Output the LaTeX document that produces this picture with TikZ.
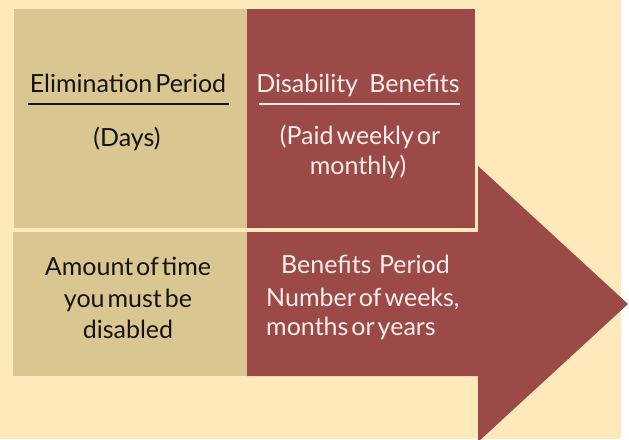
\documentclass[tikz,border=0pt]{standalone}
\usepackage{fontspec}
\setmainfont{Lato}
\definecolor{cream}{HTML}{FDE9BA}
\definecolor{tanbox}{HTML}{DAC691}
\definecolor{brick}{HTML}{9C4A48}
\definecolor{inkdark}{HTML}{141414}
\definecolor{inklight}{HTML}{F7EEEA}
\newcommand\boxtextfont{\fontsize{25}{31}\selectfont\spaceskip=0.12em\relax}
\tikzset{
  darktxt/.style={text=inkdark, inner sep=0pt, anchor=base, font=\boxtextfont},
  lighttxt/.style={text=inklight, inner sep=0pt, anchor=base, font=\boxtextfont},
}
\begin{document}
\begin{tikzpicture}[x=1pt,y=-1pt]
\useasboundingbox (0,0) rectangle (629,439);
\fill[white] (0,0) rectangle (629,439);
\fill[cream] (0,0) rectangle (621,439);
\fill[tanbox] (14,9) rectangle (247,228);
\fill[tanbox] (13,232) rectangle (247,376);
\fill[brick] (247,232) -- (478,232) -- (478,166) -- (628,304) -- (478,442) -- (478,376) -- (247,376) -- cycle;
\fill[brick] (247,9) rectangle (475,228);
% top left
\node[darktxt] (elim) at (128,92) {Elimination Period};
\draw[inkdark, line width=2pt] (28,104) -- (229,104);
\node[darktxt] (days) at (127,146) {(Days)};
% top right
\node[lighttxt] (disab) at (358,92) {Disability\hspace{0.45em}Benefits};
\draw[inklight, line width=2pt] (259,104) -- (460,104);
\node[lighttxt] (paid1) at (360,144) {(Paid weekly or};
\node[lighttxt] (paid2) at (358,174) {monthly)};
% bottom left
\node[darktxt] (amt1) at (128,275) {Amount of time};
\node[darktxt] (amt2) at (128,307) {you must be};
\node[darktxt] (amt3) at (128,338) {disabled};
% bottom right
\node[lighttxt, anchor=base west] (ben1) at (281,273) {Benefits\hspace{0.3em}Period};
\node[lighttxt, anchor=base west] (ben2) at (266,306) {Number of weeks,};
\node[lighttxt, anchor=base west] (ben3) at (266,335) {months or years};
\end{tikzpicture}
\end{document}
